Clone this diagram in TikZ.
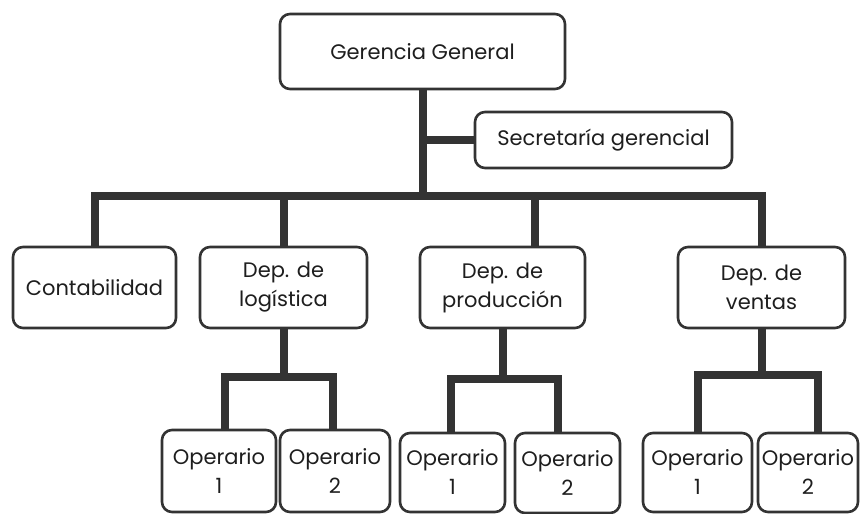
\documentclass[tikz,border=0pt]{standalone}
\usepackage{fontspec}
\setmainfont{Poppins}
\definecolor{linegray}{HTML}{333333}
\definecolor{textgray}{HTML}{1E1E1E}
\begin{document}
\begin{tikzpicture}[x=1pt,y=-1pt,
  box/.style={draw=linegray, line width=2.6pt, rounded corners=10pt, fill=white,
    align=center, text=textgray, inner sep=0pt,
    font=\fontsize{21}{29}\selectfont},
  conn/.style={draw=linegray, line width=8pt}]
\useasboundingbox (0,0) rectangle (860,514);

% top level
\node[box, minimum width=285pt, minimum height=75pt] (gg) at (422.5,51.5) {Gerencia General};
\node[box, minimum width=257pt, minimum height=56pt] (sec) at (603.5,140) {Secretaría gerencial};

% departments
\node[box, minimum width=163pt, minimum height=81pt] (cont) at (94.5,287.5) {Contabilidad};
\node[box, minimum width=167pt, minimum height=81pt] (log) at (283.5,287.5) {Dep. de\\logística};
\node[box, minimum width=165pt, minimum height=81pt] (prod) at (502.5,287.5) {Dep. de\\producción};
\node[box, minimum width=167pt, minimum height=81pt] (vent) at (761.5,287.5) {Dep. de\\ventas};

% workers
\node[box, minimum width=114pt, minimum height=82pt] (op11) at (219,471) {Operario\\1};
\node[box, minimum width=110pt, minimum height=82pt] (op12) at (335,471) {Operario\\2};
\node[box, minimum width=105pt, minimum height=79pt] (op21) at (452.5,472.5) {Operario\\1};
\node[box, minimum width=105pt, minimum height=80pt] (op22) at (567.5,473) {Operario\\2};
\node[box, minimum width=109pt, minimum height=79pt] (op31) at (697.5,472.5) {Operario\\1};
\node[box, minimum width=100pt, minimum height=79pt] (op32) at (808,472.5) {Operario\\2};

% junction points of the bars
\coordinate (bar) at (425,196);
\coordinate (jl) at (283.5,377);
\coordinate (jp) at (502.5,379);
\coordinate (jv) at (761.5,375);

% main trunk and secretary branch
\draw[conn] (gg.south) -- (gg.south |- bar);
\draw[conn] (sec.west) -- (sec.west -| gg.south);

% department bar
\draw[conn] (cont.north) |- (bar) -| (vent.north);
\draw[conn] (log.north) -- (log.north |- bar);
\draw[conn] ([xshift=32pt]prod.north) -- ([xshift=32pt]prod.north |- bar);

% worker bars
\draw[conn] (log.south) -- (jl);
\draw[conn] ([xshift=6pt]op11.north) |- (jl) -| ([xshift=-2pt]op12.north);
\draw[conn] (prod.south) -- (jp);
\draw[conn] ([xshift=-2pt]op21.north) |- (jp) -| ([xshift=-10pt]op22.north);
\draw[conn] (vent.south) -- (jv);
\draw[conn] (op31.north) |- (jv) -| ([xshift=10pt]op32.north);
\end{tikzpicture}
\end{document}
